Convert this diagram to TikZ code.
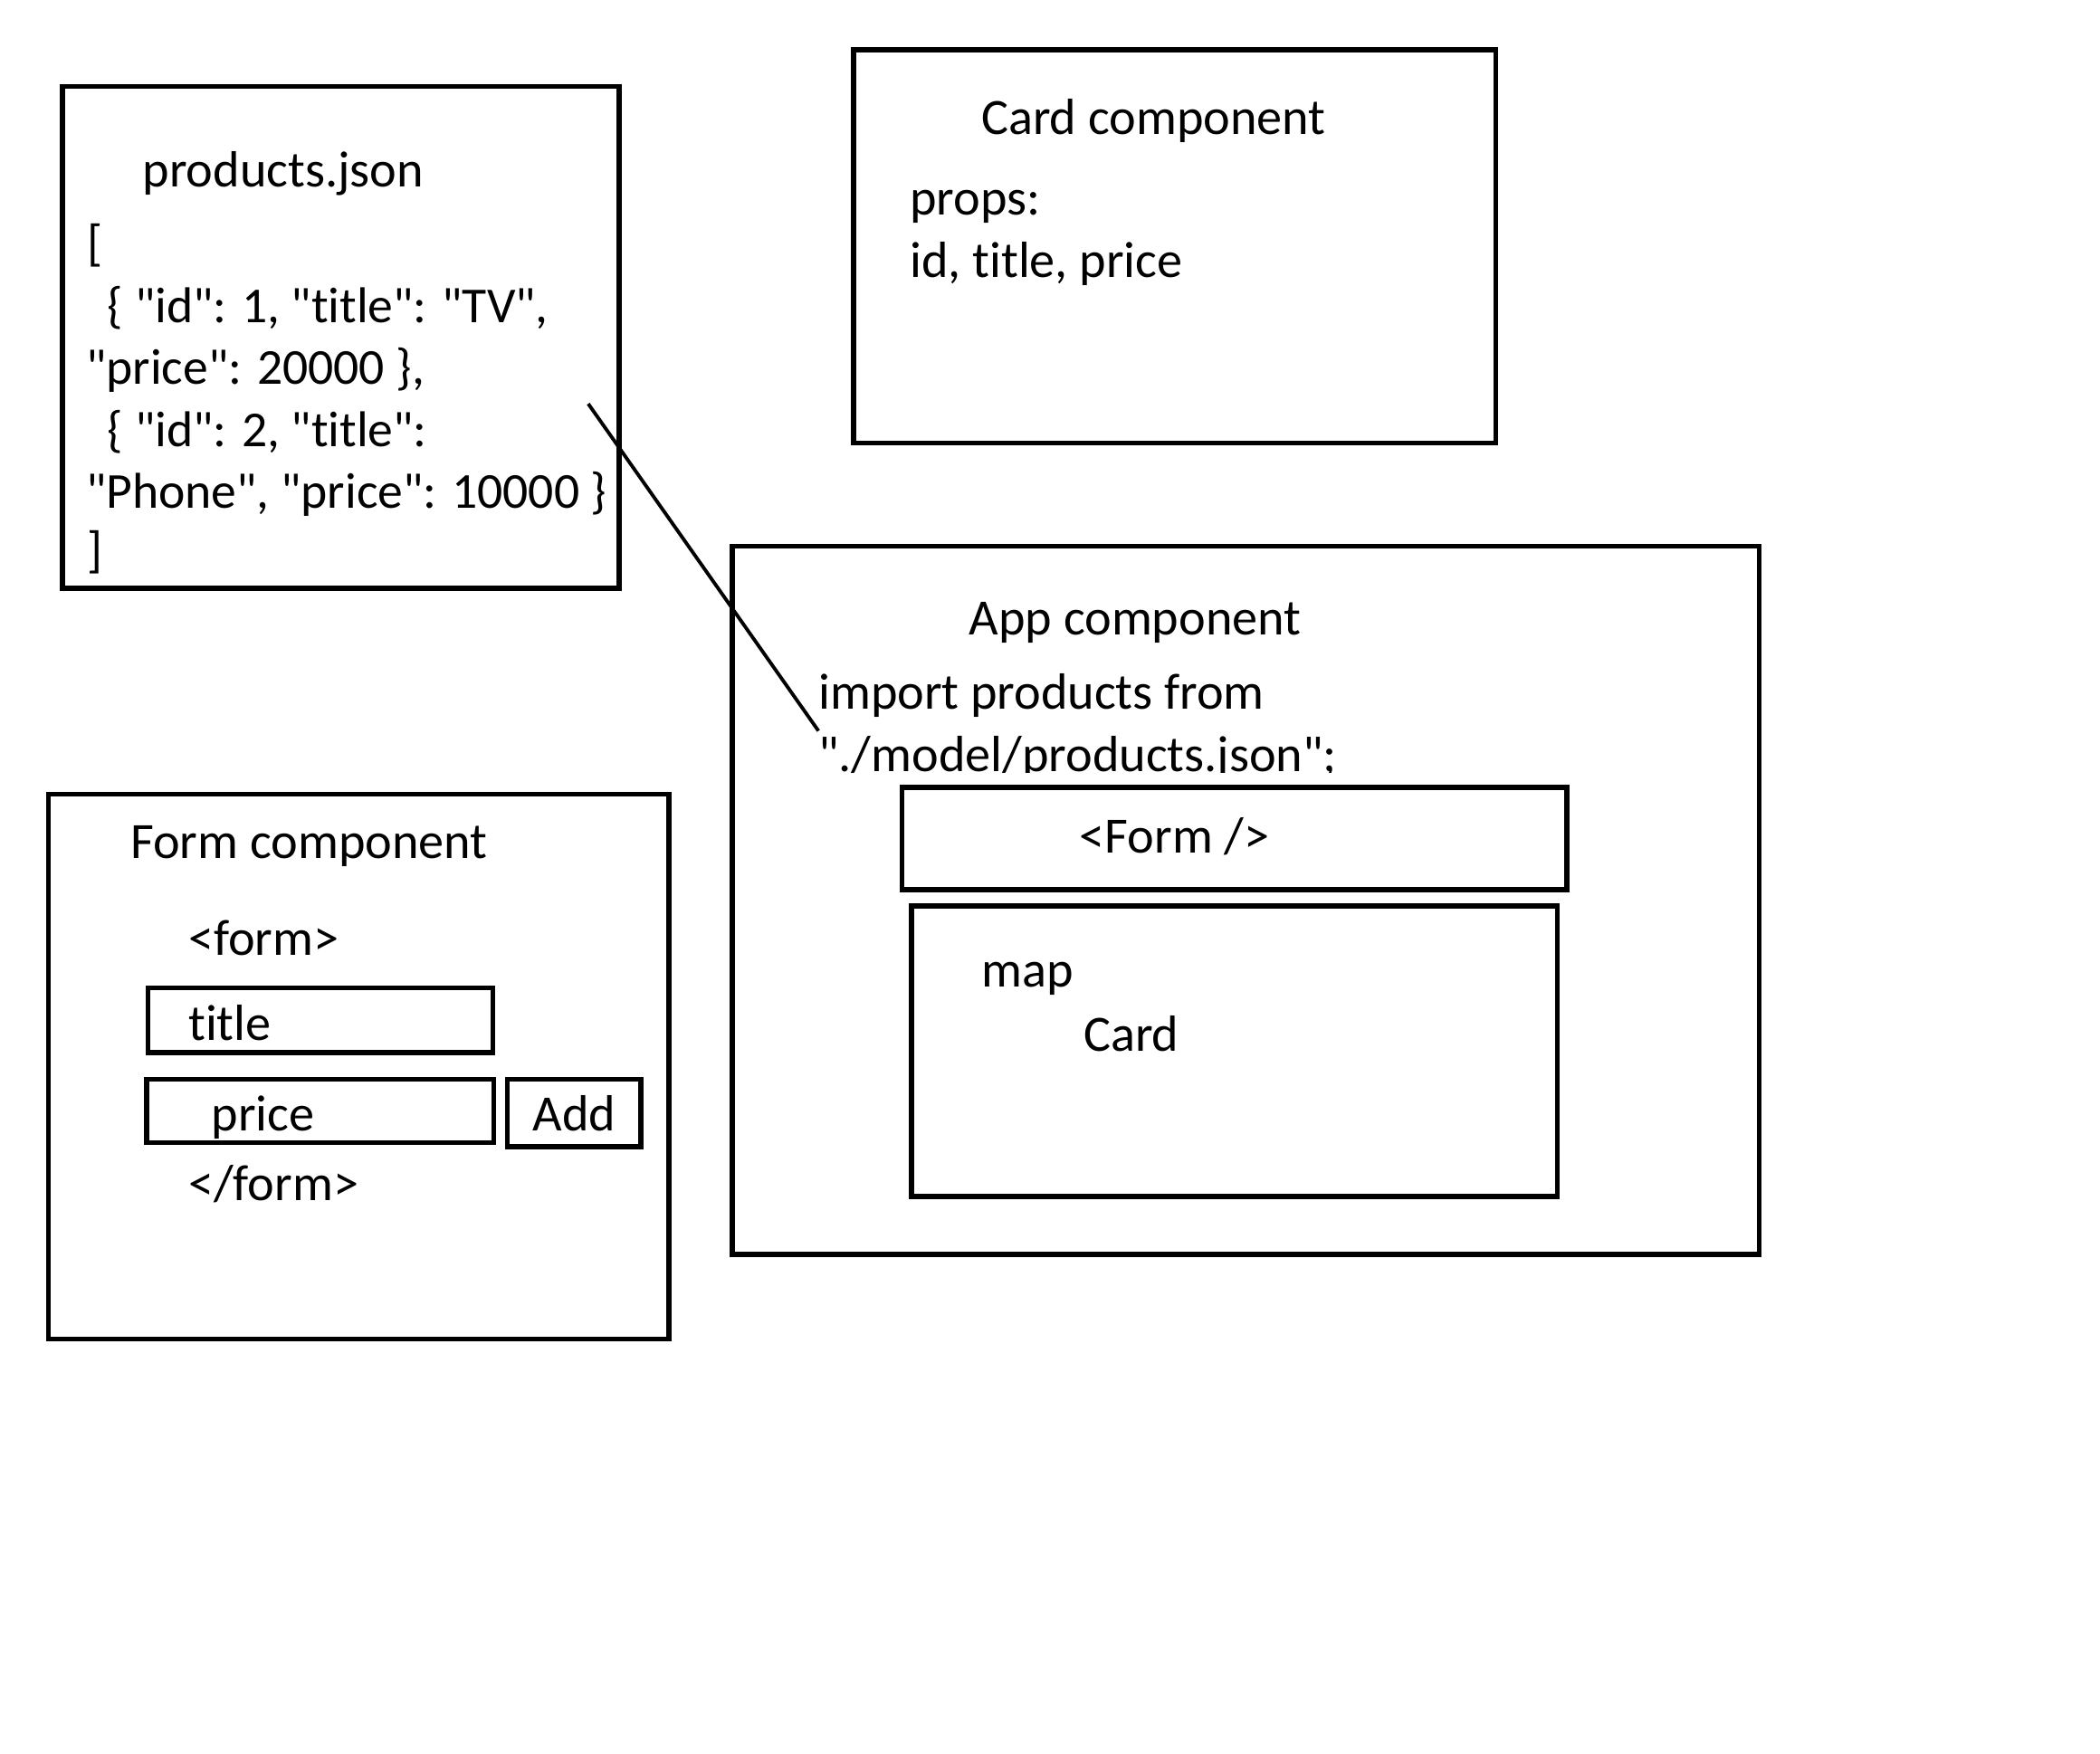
\documentclass[tikz,border=0pt]{standalone}
\usepackage{fontspec}
\setmainfont{Carlito}[Ligatures={TeXOff,CommonOff}]
\begin{document}
\begin{tikzpicture}[x=0.5pt,y=-0.5pt,
  box/.style={draw=black,line width=1.8pt},
  txt/.style={anchor=base west,inner sep=0pt,outer sep=0pt,font=\fontsize{18.9}{22}\selectfont},
  jtxt/.style={txt,font=\fontsize{18.7}{22}\selectfont},
  conn/.style={draw=black,line width=1.3pt}]
\useasboundingbox (0,0) rectangle (1560,1303);
% boxes
\draw[box] (46.5,64) rectangle (460,437);
\node[inner sep=0pt] (json) at (253,250) {};
\draw[box] (634,37) rectangle (1111,329);
\node[inner sep=0pt] (card) at (872,183) {};
\draw[box] (544,406) rectangle (1307,932);
\node[inner sep=0pt] (app) at (925,669) {};
\draw[box] (670,585) rectangle (1164,661);
\node[inner sep=0pt] (formtag) at (917,623) {};
\draw[box] (677,673) rectangle (1157,889);
\node[inner sep=0pt] (mapbox) at (917,781) {};
\draw[box] (36,590) rectangle (497,995);
\node[inner sep=0pt] (formcomp) at (266,792) {};
\draw[box] (110,734) rectangle (366,782);
\draw[box] (109,802) rectangle (367,849);
\draw[box] (377,802) rectangle (476,852);
% json texts
\node[txt] (t1) at (106,139) {products.json};
\node[jtxt] (t2) at (65,193) {[};
\node[jtxt] (t3) at (80,239.5) {\{ "id": 1, "title": "TV",};
\node[jtxt] (t4) at (64,285.5) {"price": 20000 \},};
\node[jtxt] (t5) at (80,331.5) {\{ "id": 2, "title":};
\node[jtxt] (t6) at (64,377.5) {"Phone", "price": 10000 \}};
\node[jtxt] (t7) at (65,421) {]};
% card texts
\node[txt] (c1) at (729,100) {Card component};
\node[txt] (c2) at (676,160) {props:};
\node[txt] (c3) at (676,206) {id, title, price};
% app texts
\node[txt] (a1) at (720,472) {App component};
\node[txt] (a2) at (608,527) {import products from};
\begin{scope}
\clip (598,532) rectangle (1018,574);
\node[txt] (a3) at (608,573) {"./model/products.json";};
\end{scope}
\node[txt] (a4) at (802,634) {<Form />};
\node[txt] (a5) at (729,733) {map};
\node[txt] (a6) at (805,781) {Card};
% form component texts
\node[txt] (f1) at (97,638) {Form component};
\node[txt] (f2) at (140,710) {<form>};
\node[txt] (f3) at (140,773) {title};
\node[txt] (f4) at (157,840) {price};
\node[txt] (f5) at (396,840) {Add};
\node[txt] (f6) at (140,892) {</form>};
% connector
\coordinate (lnA) at (437,300);
\coordinate (lnB) at (608,543);
\draw[conn] (lnA) -- (lnB);
\end{tikzpicture}
\end{document}
